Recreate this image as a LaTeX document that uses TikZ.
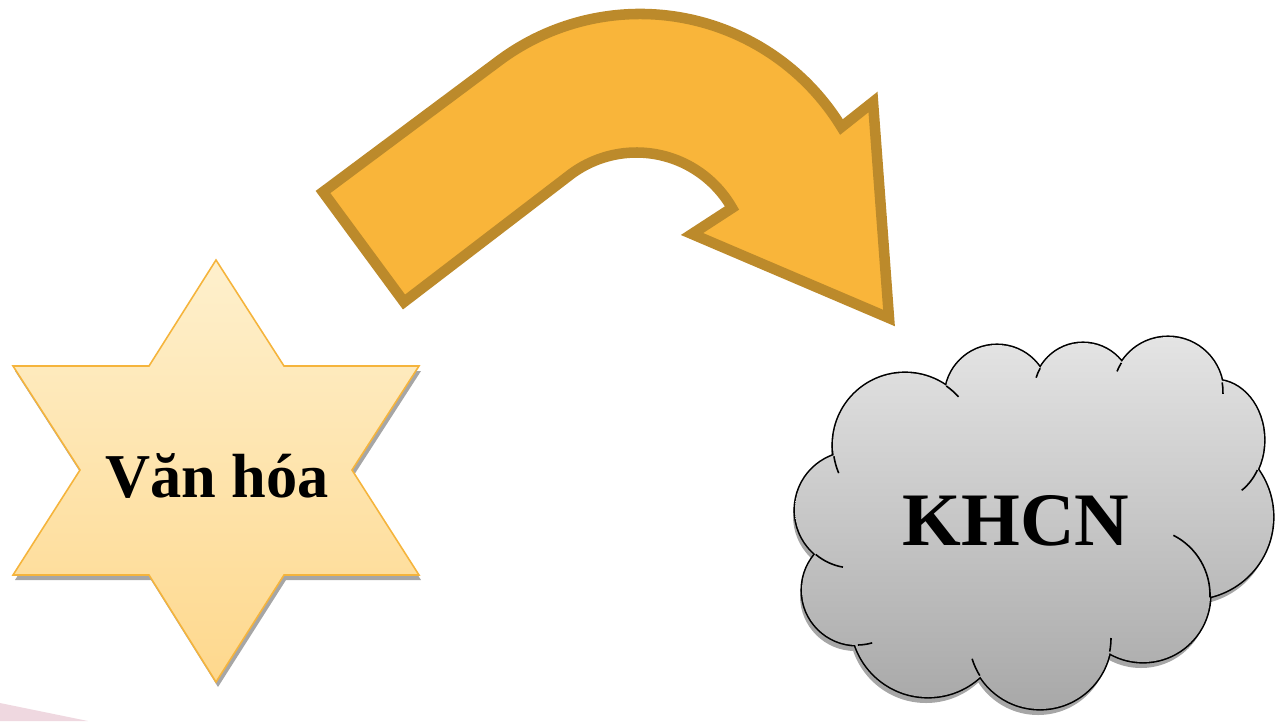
\documentclass[tikz,border=0pt]{standalone}
\usepackage{fontspec}
\setmainfont{Liberation Serif}
\definecolor{starTop}{HTML}{FEF0CD}
\definecolor{starBot}{HTML}{FED88D}
\definecolor{starLine}{HTML}{F5B43C}
\definecolor{arrowFill}{HTML}{F9B53A}
\definecolor{arrowLine}{HTML}{BC8A2B}
\definecolor{cloudTop}{HTML}{E4E4E4}
\definecolor{cloudBot}{HTML}{A8A8A8}
\definecolor{shadowGray}{HTML}{A6A6A6}
\definecolor{pinkBg}{HTML}{EFD8E0}

\begin{document}
\begin{tikzpicture}[x=0.02cm,y=-0.02cm,
        bigword/.style={inner sep=0pt,anchor=base,font=\fontsize{#1pt}{#1pt}\selectfont\bfseries},
        puffline/.style={draw=black,line width=0.9pt}]

    \useasboundingbox (0,0) rectangle (1275,721);
    \fill[pinkBg] (0,703) -- (88,721) -- (0,721) -- cycle;

    % star
    \def\starpts{(216,260) -- (284,366) -- (419,366) -- (352,470) -- (419,575) -- (284,575)
        -- (216,682) -- (149,575) -- (13,575) -- (80,470) -- (13,366) -- (149,366) -- cycle}
    \fill[shadowGray,shift={(2,5)}] \starpts;
    \shadedraw[top color=starTop,bottom color=starBot,draw=starLine,line width=0.9pt] \starpts;
    \node[bigword=35.5] (vanhoa) at (217,497) {Văn hóa};

    % curved arrow
    \filldraw[fill=arrowFill,draw=arrowLine,line width=6pt]
        (323,192) -- (500,60) arc[start angle=-126.4,end angle=-31.4,radius=236]
        -- (873,102) -- (889,318) -- (692,234) -- (732,208)
        arc[start angle=-29.7,end angle=-126.1,radius=110] -- (404,302) -- cycle;

    % cloud
    \def\puffs{foreach \cx/\cy/\rx/\ry in {905/445/72/72,997/397/52/52,1083/392/49/49,
        1168/392/55/55,1215/440/49/60,1191/517/82/82,1143/595/67/67,1040/638/71/71,
        928/620/77/77,857/590/55/55,853/510/58/58,1030/515/180/115}
        {(\cx,\cy) ellipse[x radius=\rx,y radius=\ry]}}
    \fill[shadowGray,shift={(-2,6)}] \puffs;
    \draw[line width=1.8pt] \puffs;
    \shade[top color=cloudTop,bottom color=cloudBot] \puffs;
    \foreach \cx/\cy/\rx/\ry/\a/\b in {905/445/72/72/-55/-42,1083/392/49/49/-151/-163,
        1168/392/55/55/-148/-158,1168/392/55/55/-10/2,1215/440/49/60/30/57,
        1143/595/67/67/-63/2,1040/638/71/71/0/11,1040/638/71/71/148/163,
        857/590/55/55/89/74,853/510/58/58/130/100,905/445/72/72/171/157}
        \draw[puffline] (\cx,\cy) ++(\a:{\rx} and {\ry}) arc[start angle=\a,end angle=\b,x radius=\rx,y radius=\ry];
    \node[bigword=43] (khcn) at (1016,545) {KHCN};

\end{tikzpicture}
\end{document}
